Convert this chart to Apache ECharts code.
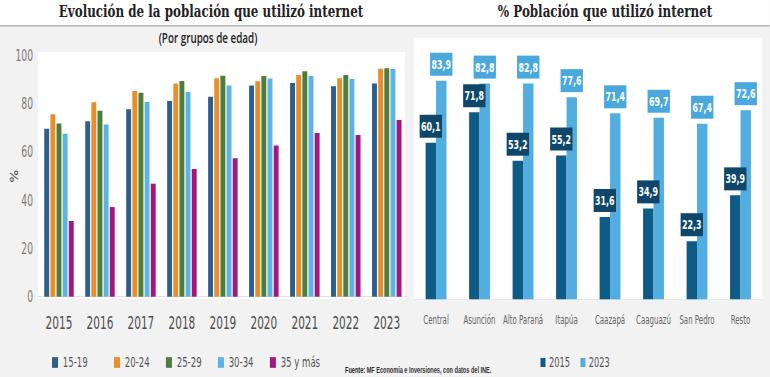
<!DOCTYPE html>
<html>
<head>
<meta charset="utf-8">
<title>Uso de internet en Paraguay</title>
<script src="https://cdn.jsdelivr.net/npm/echarts@6/dist/echarts.min.js"></script>
<style>
  html, body { margin: 0; padding: 0; background: #f2f2f2; overflow: hidden; }
  /* el original viene comprimido a lo ancho: se dibuja más ancho y se comprime */
  #chart { width: 1132.35px; height: 377px; transform: scaleX(0.68); transform-origin: 0 0; }
</style>
</head>
<body>
<div id="chart"></div>
<script>
const SX = 0.68;
const fx = (x) => x / SX; // px finales -> px antes de comprimir

// Evolución por grupos de edad (%)
const years = ['2015', '2016', '2017', '2018', '2019', '2020', '2021', '2022', '2023'];
const age1519 = [69.7, 72.8, 77.8, 81.2, 83.0, 87.6, 88.7, 87.3, 88.5];
const age2024 = [75.7, 80.7, 85.4, 88.5, 90.6, 89.4, 92.0, 90.6, 94.6];
const age2529 = [71.9, 77.2, 84.6, 89.5, 91.7, 91.6, 93.5, 92.0, 94.8];
const age3034 = [67.6, 71.5, 80.8, 84.9, 87.6, 90.5, 91.6, 90.3, 94.5];
const age35 = [31.4, 37.2, 46.9, 53.0, 57.4, 62.7, 67.9, 67.1, 73.3];

// % por departamento
const deptos = ['Central', 'Asunción', 'Alto Paraná', 'Itapúa', 'Caazapá', 'Caaguazú', 'San Pedro', 'Resto'];
const pct2015 = [60.1, 71.8, 53.2, 55.2, 31.6, 34.9, 22.3, 39.9];
const pct2023 = [83.9, 82.8, 82.8, 77.6, 71.4, 69.7, 67.4, 72.6];

const COND = "'DejaVu Sans Condensed', sans-serif";
const SERIF = "'DejaVu Serif', serif";

const ageColors = ['#2c5f8c', '#e88e2a', '#4f7d3c', '#5cb3e4', '#a3187f'];
const ageNames = ['15-19', '20-24', '25-29', '30-34', '35 y más'];
const ageData = [age1519, age2024, age2529, age3034, age35];

const comma = (p) => p.value.toFixed(1).replace('.', ',');

const chart = echarts.init(document.getElementById('chart'), null, { renderer: 'svg' });

const leftSeries = ageNames.map((name, i) => ({
    name: name,
    type: 'bar',
    xAxisIndex: 0,
    yAxisIndex: 0,
    data: ageData[i],
    barWidth: '12%',
    barGap: '25%',
    itemStyle: { color: ageColors[i] },
}));

const valueLabel = (bg) => ({
    show: true, position: 'top', distance: 5, formatter: comma,
    fontFamily: COND, fontSize: 13, fontWeight: 'bold', color: '#fff', lineHeight: 16,
    backgroundColor: bg, padding: [4, 2, 3, 2],
});

chart.setOption({
    backgroundColor: '#f2f2f2',
    animation: false,
    graphic: [
        { type: 'rect', z: -10, silent: true, shape: { x: 0, y: 0, width: fx(770), height: 25 }, style: { fill: '#ffffff' } },
        { type: 'rect', z: -10, silent: true, shape: { x: 0, y: 25, width: fx(770), height: 1.5 }, style: { fill: '#b4b4b4' } },
        { type: 'rect', z: -10, silent: true, shape: { x: fx(38), y: 52, width: fx(367), height: 247 }, style: { fill: '#ffffff' } },
        { type: 'rect', z: -10, silent: true, shape: { x: fx(414), y: 38, width: fx(348), height: 262 }, style: { fill: '#ffffff' } },
    ],
    title: [
        {
            text: 'Evolución de la población que utilizó internet',
            left: fx(211), top: 2, padding: 0, textAlign: 'center',
            textStyle: { fontFamily: SERIF, fontSize: 17.5, fontWeight: 'bold', color: '#222' },
        },
        {
            text: '(Por grupos de edad)',
            left: fx(208), top: 30, padding: 0, textAlign: 'center',
            textStyle: { fontFamily: "'Open Sans', sans-serif", fontSize: 14.5, fontWeight: 600, color: '#222' },
        },
        {
            text: '% Población que utilizó internet',
            left: fx(605), top: 2, padding: 0, textAlign: 'center',
            textStyle: { fontFamily: SERIF, fontSize: 17.5, fontWeight: 'bold', color: '#222' },
        },
        {
            text: '{b|Fuente:} MF Economía e Inversiones, con datos del INE.',
            left: fx(345), top: 366, padding: 0,
            textStyle: {
                fontFamily: "'Liberation Sans', sans-serif", fontSize: 8.2, color: '#333',
                rich: { b: { fontFamily: "'Liberation Sans', sans-serif", fontSize: 8.2, fontWeight: 'bold', color: '#222' } },
            },
        },
    ],
    legend: [
        {
            data: ['15-19'], left: fx(52), top: 355.5, padding: 0, icon: 'rect',
            itemWidth: fx(6), itemHeight: 10.7,
            textStyle: { fontFamily: COND, fontSize: 14, color: '#555', padding: [0, 0, 0, 2] },
        },
        {
            data: ['20-24', '25-29', '30-34', '35 y más'], left: fx(114), top: 355.5, padding: 0, icon: 'rect',
            itemWidth: fx(6), itemHeight: 10.7, itemGap: 24,
            textStyle: { fontFamily: COND, fontSize: 14, color: '#555', padding: [0, 0, 0, 2] },
        },
        {
            data: ['2015', '2023'], left: fx(540.5), top: 355.5, padding: 0, icon: 'rect',
            itemWidth: fx(5), itemHeight: 9, itemGap: 15.5,
            textStyle: { fontFamily: COND, fontSize: 13.5, color: '#555' },
        },
    ],
    grid: [
        { left: fx(38.5), right: fx(362.5), top: 55.7, bottom: 80.3 },
        { left: fx(414.3), right: fx(7.5), top: 38.8, bottom: 77.7 },
    ],
    xAxis: [
        {
            type: 'category', gridIndex: 0, data: years,
            axisLine: { lineStyle: { color: '#dcdcdc' } },
            axisTick: { show: false },
            axisLabel: { fontFamily: COND, fontSize: 17.2, color: '#4d4d4d', margin: 17 },
        },
        {
            type: 'category', gridIndex: 1, data: deptos,
            axisLine: { lineStyle: { color: '#e2e2e2' } },
            axisTick: { show: false },
            axisLabel: { fontFamily: COND, fontSize: 11.5, color: '#666', margin: 15, interval: 0 },
        },
    ],
    yAxis: [
        {
            type: 'value', gridIndex: 0, min: 0, max: 100, interval: 20,
            name: '%', nameLocation: 'middle', nameRotate: 90, nameGap: fx(18.5), nameMoveOverlap: false,
            nameTextStyle: { fontFamily: COND, fontSize: 15, color: '#333' },
            axisLine: { show: false }, axisTick: { show: false }, splitLine: { show: false },
            axisLabel: { fontFamily: COND, fontSize: 15, color: '#777', margin: fx(5.5) },
        },
        { type: 'value', gridIndex: 1, min: 0, max: 100, show: false, splitLine: { show: false } },
    ],
    series: leftSeries.concat([
        {
            name: '2015', type: 'bar', xAxisIndex: 1, yAxisIndex: 1, data: pct2015,
            barWidth: '24%', barGap: '0%',
            itemStyle: { color: '#0f5b87' },
            label: valueLabel('#0e4769'),
        },
        {
            name: '2023', type: 'bar', xAxisIndex: 1, yAxisIndex: 1, data: pct2023,
            barWidth: '24%', barGap: '0%',
            itemStyle: { color: '#52aee0' },
            label: valueLabel('#4aa8dc'),
        },
    ]),
});
</script>
</body>
</html>
